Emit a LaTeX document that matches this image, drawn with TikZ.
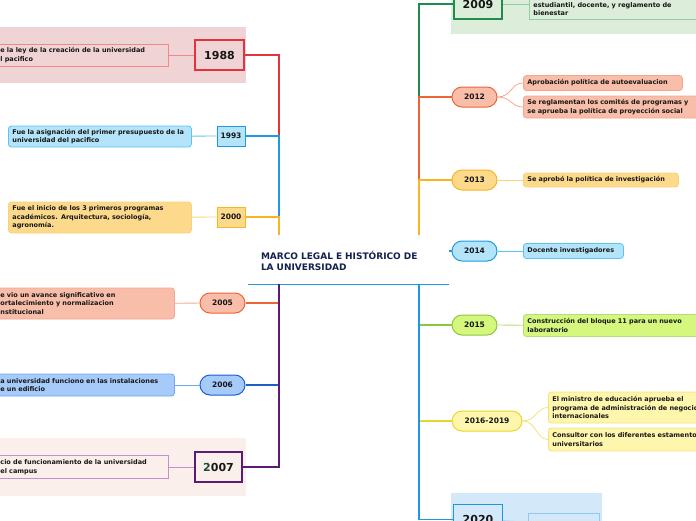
\documentclass[tikz,border=0pt]{standalone}
\usepackage{fontspec}
\setmainfont{DejaVu Sans}
\usetikzlibrary{positioning}
\definecolor{ink}{HTML}{161616}
\definecolor{navy}{HTML}{13214E}
\definecolor{red88}{HTML}{E3343D}
\definecolor{red88l}{HTML}{F2878C}
\definecolor{band88}{HTML}{F0D3D4}
\definecolor{blue93}{HTML}{1E9BE0}
\definecolor{blue93l}{HTML}{5DC4F2}
\definecolor{fill93}{HTML}{B3E4FA}
\definecolor{orange00}{HTML}{F7B522}
\definecolor{orange00l}{HTML}{FBD27A}
\definecolor{fill00}{HTML}{FDD98C}
\definecolor{salmon05}{HTML}{EE6436}
\definecolor{salmon05l}{HTML}{F4A78E}
\definecolor{fill05}{HTML}{F9BEA9}
\definecolor{blue06}{HTML}{1F5CCF}
\definecolor{blue06l}{HTML}{6FA7F2}
\definecolor{fill06}{HTML}{A6CBFB}
\definecolor{purple07}{HTML}{5B1A73}
\definecolor{purple07l}{HTML}{C48FD2}
\definecolor{band07}{HTML}{FBEFEC}
\definecolor{green09}{HTML}{1F8B4C}
\definecolor{green09l}{HTML}{8ED09F}
\definecolor{band09}{HTML}{DCEEDA}
\definecolor{lime15}{HTML}{8DC63F}
\definecolor{lime15l}{HTML}{B5DE78}
\definecolor{fill15}{HTML}{D5F77D}
\definecolor{yellow16}{HTML}{E9D52B}
\definecolor{yellow16l}{HTML}{F3E27A}
\definecolor{fill16}{HTML}{FFF6AE}
\definecolor{blue20}{HTML}{2196E0}
\definecolor{blue20l}{HTML}{8FC8F0}
\definecolor{band20}{HTML}{D3E8F8}
\definecolor{teal07}{HTML}{1A4A3A}

\begin{document}
\begin{tikzpicture}[x=1pt,y=-1pt,
	every node/.style={text=ink, font=\bfseries\fontsize{6.5}{8.7}\selectfont},
	bigyear/.style 2 args={draw=#1, fill=#2, line width=1.8pt, inner sep=0pt,
		minimum height=30pt, font=\bfseries\fontsize{11}{13}\selectfont},
	smallyear/.style 2 args={draw=#1, fill=#2, line width=1pt, inner sep=0pt,
		minimum width=28pt, minimum height=20pt, font=\bfseries\fontsize{7.5}{9}\selectfont},
	pill/.style 2 args={draw=#1, fill=#2, line width=1pt, rounded corners=10pt, inner sep=0pt,
		minimum width=45pt, minimum height=20pt, font=\bfseries\fontsize{7.5}{9}\selectfont},
	note/.style 2 args={draw=#1, fill=#2, line width=0.8pt, rounded corners=3pt,
		align=left, inner xsep=4pt, inner ysep=1pt, anchor=west},
	flatnote/.style 2 args={draw=#1, fill=#2, line width=0.8pt,
		align=left, inner xsep=4pt, inner ysep=1pt, anchor=west},
	trunk/.style={line width=1.3pt},
	twig/.style={line width=0.8pt}
	]
	\useasboundingbox (0,0) rectangle (696,520);
	
	% Root
	\node[text=navy, font=\bfseries\fontsize{9}{11}\selectfont, align=left,
		text width=175pt, inner xsep=13pt, inner ysep=0pt,
		minimum width=201pt, minimum height=47pt] (root) at (348.5,260.5)
		{MARCO LEGAL E HISTÓRICO DE\\LA UNIVERSIDAD};
	\draw[blue93, trunk] (root.south west) -- (root.south east);
	\coordinate (ltop) at (279,235);
	\coordinate (lbot) at (279,284);
	\coordinate (rtop) at (419,235);
	\coordinate (rbot) at (419,284);
	\coordinate (rstub) at (449,251);
	
	% Bands
	\fill[band88] (0,27) rectangle (246,83);
	\fill[band07] (0,438) rectangle (246,496);
	\fill[band09] (451,-5) rectangle (696,34);
	\fill[band20] (451,493) rectangle (602,525);
	
	% 1988
	\node[bigyear={red88}{band88}, minimum width=49pt] (y1988) at (219.5,55) {1988};
	\node[flatnote={red88l}{band88}, text width=164pt, minimum height=22pt] (n1988) at (-4,55)
		{e la ley de la creación de la universidad\\l pacifico};
	\draw[red88l, twig] (n1988) -- (y1988);
	\draw[red88, trunk] (y1988.east) -| (ltop);
	
	% 1993
	\node[smallyear={blue93}{fill93}] (y1993) at (231,136) {1993};
	\node[note={blue93l}{fill93}, text width=175pt, minimum height=21pt] (n1993) at (8,136.5)
		{Fue la asignación del primer presupuesto de la\\universidad del pacifico};
	\draw[blue93l, twig] (n1993) -- (y1993);
	\draw[blue93, trunk] (y1993.east) -| (ltop);
	
	% 2000
	\node[smallyear={orange00}{fill00}] (y2000) at (231,217) {2000};
	\node[note={orange00l}{fill00}, text width=175pt, minimum height=31pt] (n2000) at (8,217.5)
		{Fue el inicio de los 3 primeros programas\\académicos. Arquitectura, sociología,\\agronomía.};
	\draw[orange00l, twig] (n2000) -- (y2000);
	\draw[orange00, trunk] (y2000.east) -| (ltop);
	
	% 2005
	\node[pill={salmon05}{fill05}] (y2005) at (222.5,303) {2005};
	\node[note={salmon05l}{fill05}, text width=170pt, minimum height=31pt] (n2005) at (-4,303.5)
		{e vio un avance significativo en\\ortalecimiento y normalizacion\\nstitucional};
	\draw[salmon05l, twig] (n2005) -- (y2005);
	\draw[salmon05, trunk] (lbot) |- (y2005.east);
	
	% 2006
	\node[pill={blue06}{fill06}] (y2006) at (222.5,385) {2006};
	\node[note={blue06l}{fill06}, text width=170pt, minimum height=22pt] (n2006) at (-4,385)
		{a universidad funciono en las instalaciones\\e un edificio};
	\draw[blue06l, twig] (n2006) -- (y2006);
	\draw[blue06, trunk] (lbot) |- (y2006.east);
	
	% 2007
	\node[bigyear={purple07}{band07}, minimum width=47pt] (y2007) at (218.5,467)
		{\textcolor{teal07}{2}007};
	\node[flatnote={purple07l}{band07}, text width=164pt, minimum height=23pt] (n2007) at (-4,467)
		{cio de funcionamiento de la universidad\\el campus};
	\draw[purple07l, twig] (n2007) -- (y2007);
	\draw[purple07, trunk] (lbot) |- (y2007.east);
	
	% 2009
	\node[bigyear={green09}{band09}, minimum width=48pt] (y2009) at (478,4) {2009};
	\node[flatnote={green09l}{band09}, text width=200pt, minimum height=30pt] (n2009) at (529,4)
		{\strut\\estudiantil, docente, y reglamento de\\bienestar};
	\draw[green09l, twig] (y2009) -- (n2009);
	\draw[green09, trunk] (rtop) |- (y2009.west);
	
	% 2012
	\node[pill={salmon05}{fill05}] (y2012) at (474.5,97) {2012};
	\node[note={salmon05l}{fill05}, text width=151pt, minimum height=15pt] (n2012a) at (523,83)
		{Aprobación política de autoevaluacion};
	\node[note={salmon05l}{fill05}, text width=200pt, minimum height=22pt] (n2012b) at (523,107)
		{Se reglamentan los comités de programas y\\se aprueba la política de proyección social};
	\draw[salmon05l, twig] (y2012.east) .. controls +(14,0) and +(-12,0) .. (n2012a.west);
	\draw[salmon05l, twig] (y2012.east) .. controls +(14,0) and +(-12,0) .. (n2012b.west);
	\draw[salmon05, trunk] (rtop) |- (y2012.west);
	
	% 2013
	\node[pill={orange00}{fill00}] (y2013) at (474.5,180) {2013};
	\node[note={orange00l}{fill00}, text width=147pt, minimum height=14pt] (n2013) at (523,180)
		{Se aprobó la política de investigación};
	\draw[orange00l, twig] (y2013) -- (n2013);
	\draw[orange00, trunk] (rtop) |- (y2013.west);
	
	% 2014
	\node[pill={blue93}{fill93}] (y2014) at (474.5,251) {2014};
	\node[note={blue93l}{fill93}, text width=92pt, minimum height=15pt] (n2014) at (523,251)
		{Docente investigadores};
	\draw[blue93l, twig] (y2014) -- (n2014);
	\draw[blue93, trunk] (rstub) -- (y2014.west);
	
	% 2015
	\node[pill={lime15}{fill15}] (y2015) at (474.5,325) {2015};
	\node[note={lime15l}{fill15}, text width=200pt, minimum height=22pt] (n2015) at (523,325.5)
		{Construcción del bloque 11 para un nuevo\\laboratorio};
	\draw[lime15l, twig] (y2015) -- (n2015);
	\draw[lime15, trunk] (rbot) |- (y2015.west);
	
	% 2016-2019
	\node[pill={yellow16}{fill16}, minimum width=70pt] (y2016) at (487,421) {2016-2019};
	\node[note={yellow16l}{fill16}, text width=200pt, minimum height=31pt] (n2016a) at (548,407.5)
		{El ministro de educación aprueba el\\programa de administración de negocios\\internacionales};
	\node[note={yellow16l}{fill16}, text width=200pt, minimum height=23pt] (n2016b) at (548,439.5)
		{Consultor con los diferentes estamentos\\universitarios};
	\draw[yellow16l, twig] (y2016.east) .. controls +(14,0) and +(-12,0) .. (n2016a.west);
	\draw[yellow16l, twig] (y2016.east) .. controls +(14,0) and +(-12,0) .. (n2016b.west);
	\draw[yellow16, trunk] (rbot) |- (y2016.west);
	
	% 2020
	\node[bigyear={blue20}{band20}, minimum width=49pt] (y2020) at (478,519.5) {2020};
	\node[flatnote={blue20l}{band20}, text width=63pt, minimum height=22pt] (n2020) at (528,524) {};
	\draw[blue20l, twig] (y2020) -- (n2020);
	\draw[blue20, trunk] (rbot) |- (y2020.west);
\end{tikzpicture}
\end{document}
